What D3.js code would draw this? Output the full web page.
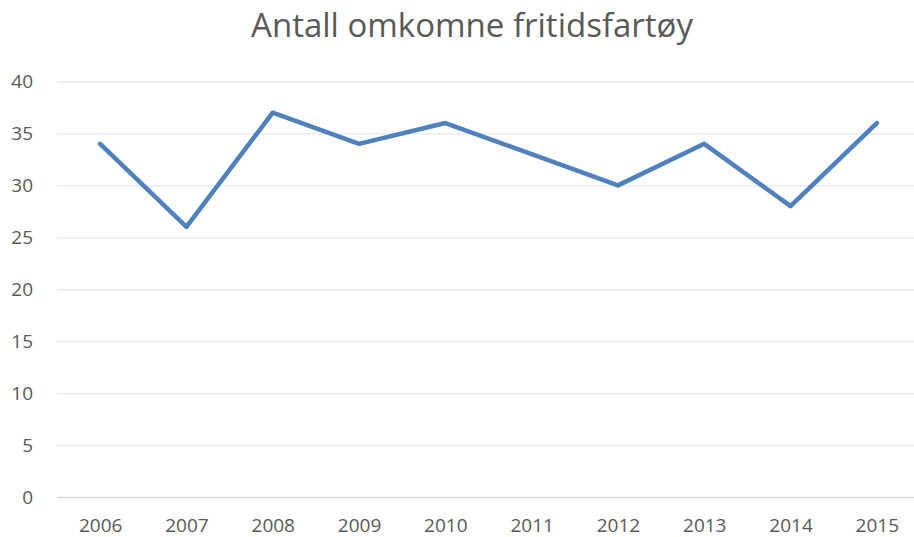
<!DOCTYPE html>
<html><head><meta charset="utf-8">
<script src="https://cdn.jsdelivr.net/npm/d3@7"></script>
<style>body{margin:0;background:#fff}svg{display:block}</style>
</head><body>
<script>
const years = ["2006","2007","2008","2009","2010","2011","2012","2013","2014","2015"];
const values = [34,26,37,34,36,33,30,34,28,36];
const yTicks = [0,5,10,15,20,25,30,35,40];
const title = "Antall omkomne fritidsfartøy";

const W = 914, H = 537;
const svg = d3.select("body").append("svg").attr("width", W).attr("height", H);
const font = "'Open Sans', 'Noto Sans', sans-serif";
const plotLeft = 57, plotRight = 920, plotTop = 81.5, plotBottom = 497;
const x = d3.scalePoint().domain(years).range([plotLeft, plotRight]).padding(0.5);
const y = d3.scaleLinear().domain([0, 40]).range([plotBottom, plotTop]);

svg.append("text").attr("x", 472).attr("y", 37).attr("text-anchor", "middle")
  .attr("font-family", font).attr("font-size", 33).attr("fill", "#595959").text(title);

const ya = svg.append("g").attr("transform", `translate(${plotLeft},0)`)
  .call(d3.axisLeft(y).tickValues(yTicks).tickSize(-(W - plotLeft)).tickPadding(24));
ya.select(".domain").remove();
ya.selectAll(".tick line").attr("stroke", d => d === 0 ? "#d9d9d9" : "#e3e9f3").attr("stroke-width", d => d === 0 ? 1.5 : 1.3);
ya.selectAll(".tick text").attr("font-family", font).attr("font-size", 19).attr("fill", "#595959");

const xa = svg.append("g").attr("transform", `translate(0,${plotBottom})`)
  .call(d3.axisBottom(x).tickSize(0).tickPadding(22));
xa.select(".domain").remove();
xa.selectAll(".tick text").attr("font-family", font).attr("font-size", 19).attr("fill", "#595959");

const line = d3.line().x((d, i) => x(years[i])).y(d => y(d));
svg.append("path").datum(values).attr("d", line).attr("fill", "none")
  .attr("stroke", "#4f81bd").attr("stroke-width", 4.5)
  .attr("stroke-linejoin", "round").attr("stroke-linecap", "round");
</script>
</body></html>
